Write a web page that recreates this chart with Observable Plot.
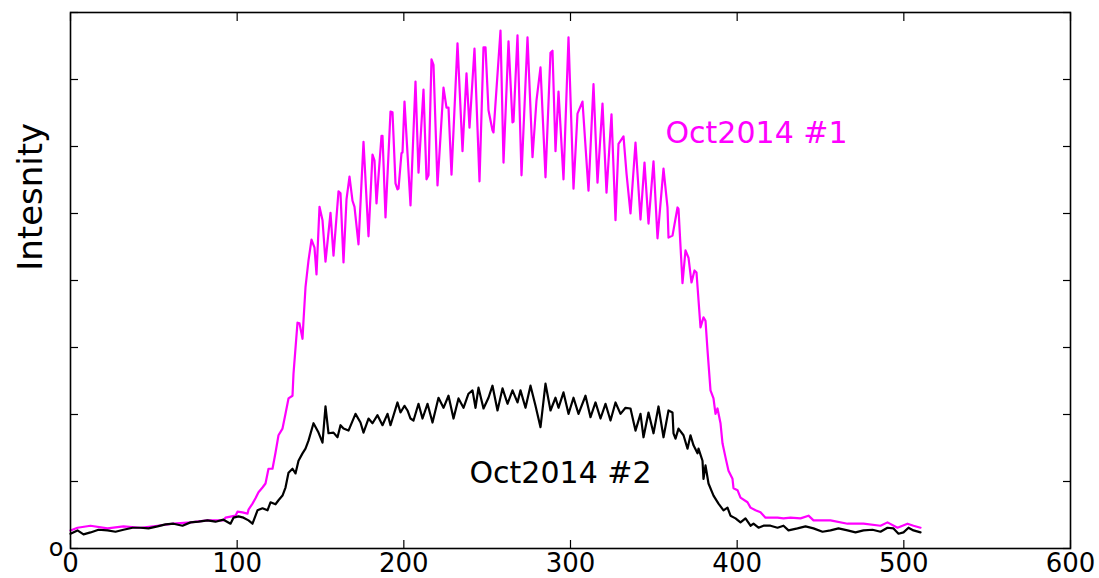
<!DOCTYPE html>
<html>
<head>
<meta charset="utf-8">
<script src="https://cdn.jsdelivr.net/npm/d3@7"></script>
<script src="https://cdn.jsdelivr.net/npm/@observablehq/plot@0.6"></script>
<style>
  html, body { margin: 0; padding: 0; background: #ffffff; }
</style>
</head>
<body>
<div id="chart"></div>
<script>
// ---- data ----
const xTicks = [0, 100, 200, 300, 400, 500, 600];
const yTicks = [0, 1, 2, 3, 4, 5, 6, 7, 8];
const yZeroLabel = "o";
const yTitle = "Intesnity";

// Oct2014 #1 : [position, intensity]
const oct1 = [
  [0,0.27],[4.2,0.31],[12,0.34],[22.2,0.30],[31.8,0.33],[42,0.31],[52.2,0.34],[61.8,0.37],[72,0.39],[82.2,0.42],
  [91.8,0.42],[93,0.46],[99,0.49],[100.2,0.55],[103.2,0.54],[106.2,0.52],[106.8,0.58],[109.2,0.67],[111,0.75],[112.8,0.84],
  [115.2,0.91],[117,0.97],[118.8,1.19],[121.2,1.19],[123,1.43],[124.8,1.69],[127.2,1.79],[129,2.01],[130.8,2.24],[133.2,2.28],
  [133.8,2.61],[136.2,3.37],[137.4,3.36],[139.2,3.13],[139.8,3.40],[141,3.90],[142.8,4.30],[144.6,4.61],[146.4,4.49],[147.6,4.09],
  [149.4,5.10],[151.2,4.90],[153,4.28],[156,5.01],[157.8,4.37],[160.8,5.33],[162,5.30],[163.8,4.27],[165.6,5.21],[167.4,5.55],
  [169.2,5.19],[170.4,5.10],[172.8,4.54],[175.8,6.07],[178.8,4.66],[181.2,5.88],[182.4,5.79],[183.6,5.15],[186.6,6.16],[187.2,6.16],
  [189,4.94],[192,6.52],[193.2,6.51],[195,5.45],[196.2,5.36],[196.8,5.37],[198.6,5.90],[199.2,5.91],[200.4,6.67],[204,5.12],
  [207,6.97],[208.8,5.61],[211.8,6.85],[213.6,5.51],[214.8,5.57],[216.6,7.30],[217.8,7.22],[220.2,5.42],[223.8,6.88],[225.6,6.58],
  [226.8,6.58],[228.6,5.58],[232.2,7.54],[235.2,5.93],[237.6,7.09],[239.4,6.28],[242.4,7.46],[245.4,5.48],[247.8,7.48],[249,7.48],
  [250.8,6.54],[253.2,6.24],[253.8,6.21],[258,7.73],[259.8,5.76],[262.8,7.57],[265.2,6.36],[265.8,6.37],[268.2,7.66],[270.6,5.57],
  [274.2,7.63],[277.2,5.84],[279.6,6.69],[282,7.18],[285,5.54],[288,7.40],[289.2,7.43],[291,5.93],[292.8,6.82],[295.8,5.51],
  [298.8,7.63],[301.8,5.37],[304.2,6.49],[307.2,6.67],[310.8,5.34],[313.8,6.93],[316.2,5.46],[319.2,6.64],[321.6,5.31],[324.6,6.48],
  [327,4.90],[328.8,6.04],[331.8,6.15],[333.6,5.60],[336,5.00],[339,6.06],[342,4.91],[344.4,5.76],[346.8,4.85],[349.8,5.78],
  [352.2,4.63],[355.8,5.67],[358.2,5.09],[358.8,4.64],[361.2,4.67],[364.2,5.09],[364.8,5.07],[367.2,3.96],[369,4.45],[370.8,4.34],
  [372.6,3.97],[374.4,4.15],[375.6,4.12],[378,3.30],[379.8,3.45],[381,3.40],[382.2,2.96],[384,2.36],[385.8,2.24],[387,2.01],
  [388.2,2.09],[390,1.87],[391.2,1.57],[393,1.36],[394.8,1.16],[397.2,1.04],[397.8,0.90],[400.2,0.87],[402,0.76],[406.2,0.69],
  [408,0.61],[411,0.57],[414,0.54],[417,0.46],[420,0.46],[424.2,0.46],[427.8,0.45],[432,0.46],[438,0.45],[442.8,0.49],
  [445.8,0.42],[456,0.42],[466.2,0.37],[475.8,0.37],[486,0.34],[490.2,0.39],[496.2,0.31],[502.2,0.37],[505.8,0.34],[510,0.31]
];

// Oct2014 #2 : [position, intensity]
const oct2 = [
  [0,0.22],[4.2,0.27],[7.8,0.21],[12,0.24],[16.8,0.28],[22.2,0.27],[27,0.25],[31.8,0.28],[37.2,0.31],[42,0.31],
  [46.8,0.30],[52.2,0.33],[57,0.36],[61.8,0.37],[67.2,0.34],[72,0.39],[76.8,0.40],[82.2,0.42],[87,0.40],[91.8,0.43],
  [96,0.37],[97.8,0.46],[100.8,0.48],[103.8,0.46],[106.8,0.42],[109.2,0.37],[112.2,0.57],[115.2,0.60],[118.2,0.57],[120,0.69],
  [123,0.66],[124.8,0.72],[127.2,0.79],[129,0.91],[130.8,1.13],[133.2,1.19],[135,1.12],[136.8,1.31],[139.2,1.42],[141,1.49],
  [142.8,1.61],[145.8,1.87],[148.8,1.73],[151.2,1.58],[153,2.12],[154.8,1.72],[157.8,1.73],[160.2,1.66],[162,1.84],[163.8,1.79],
  [166.8,1.76],[171,2.01],[174,1.88],[175.8,1.73],[178.8,1.94],[181.2,1.87],[184.2,1.99],[187.2,1.84],[190.2,2.01],[192,1.84],
  [196.2,2.18],[198,2.03],[200.4,2.13],[202.2,2.06],[204,1.94],[205.8,1.91],[208.8,2.16],[211.2,1.94],[214.2,2.16],[217.2,1.88],
  [220.8,2.25],[223.8,2.10],[226.8,2.28],[229.8,1.94],[232.8,2.24],[235.8,2.10],[238.8,2.31],[241.2,2.36],[243,2.10],[244.8,2.40],
  [247.8,2.09],[250.8,2.25],[253.2,2.43],[256.2,2.06],[259.2,2.39],[262.2,2.16],[265.2,2.36],[268.2,2.18],[270,2.36],[273,2.10],
  [276,2.43],[279,2.13],[282,1.81],[285,2.46],[288,2.06],[291,2.25],[292.8,2.10],[295.8,2.33],[298.8,2.01],[301.8,2.25],
  [304.8,2.01],[309,2.28],[312,1.96],[315,2.18],[318,1.94],[321,2.16],[324,1.91],[327,2.18],[330,2.01],[333,2.10],
  [336,2.09],[339,1.76],[342,2.01],[343.8,1.66],[346.8,2.03],[349.8,1.72],[352.8,2.12],[355.8,1.66],[358.8,2.06],[361.2,2.03],
  [361.8,1.72],[363,1.64],[364.8,1.79],[367.8,1.69],[370.2,1.49],[372,1.69],[373.8,1.54],[376.2,1.42],[376.8,1.49],[379.2,1.31],
  [379.8,1.04],[381,1.24],[382.8,0.97],[385.8,0.79],[388.8,0.67],[391.8,0.57],[394.2,0.61],[396,0.49],[399,0.45],[402,0.39],
  [405,0.45],[408,0.34],[409.8,0.37],[412.8,0.31],[415.8,0.34],[420,0.34],[424.2,0.31],[427.8,0.34],[430.8,0.27],[436.2,0.30],
  [441,0.33],[445.8,0.30],[451.2,0.25],[456,0.27],[460.8,0.30],[466.2,0.27],[471,0.24],[475.8,0.27],[481.2,0.28],[486,0.25],
  [490.2,0.31],[493.8,0.30],[496.8,0.22],[499.8,0.24],[502.8,0.31],[505.8,0.27],[510,0.24]
];

// series labels placed in data coordinates
const seriesNames = ["Oct2014 #1", "Oct2014 #2"];
const labelX = [357, 239.4];
const labelY = [6.2, 1.12];
const seriesColors = ["#ff00ff", "#000000"];

// y-axis title position (data coordinates)
const titlePos = { x: -23.4, y: 5.25 };

// ---- chart ----
const labels = seriesNames.map((t, i) => ({ t, x: labelX[i], y: labelY[i], c: seriesColors[i] }));

const chart = Plot.plot({
  width: 1099,
  height: 578,
  marginLeft: 70,
  marginRight: 29,
  marginTop: 12,
  marginBottom: 30,
  x: { domain: [0, 600], label: null },
  y: { domain: [0, 8], label: null },
  style: { fontFamily: "DejaVu Sans", background: "#ffffff", color: "#000000", overflow: "visible" },
  marks: [
    // inward ticks on all four sides
    Plot.axisX({ anchor: "bottom", ticks: xTicks, tickSize: -8, tickFormat: () => "", label: null, strokeWidth: 1.2 }),
    Plot.axisX({ anchor: "top", ticks: xTicks, tickSize: -8, tickFormat: () => "", label: null, strokeWidth: 1.2 }),
    Plot.axisY({ anchor: "left", ticks: yTicks, tickSize: -8, tickFormat: () => "", label: null, strokeWidth: 1.2 }),
    Plot.axisY({ anchor: "right", ticks: yTicks, tickSize: -8, tickFormat: () => "", label: null, strokeWidth: 1.2 }),
    // tick labels
    Plot.axisX({ anchor: "bottom", ticks: xTicks, tickSize: 0, tickPadding: 5, fontSize: 26, label: null }),
    Plot.axisY({ anchor: "left", ticks: [0], tickSize: 0, tickPadding: 7, fontSize: 24, tickFormat: () => yZeroLabel, label: null }),
    // profiles
    Plot.line(oct1, { x: d => d[0], y: d => d[1], stroke: seriesColors[0], strokeWidth: 2.2 }),
    Plot.line(oct2, { x: d => d[0], y: d => d[1], stroke: seriesColors[1], strokeWidth: 2.2 }),
    // frame
    Plot.frame({ stroke: "#000000", strokeWidth: 1.6 }),
    // series labels
    Plot.text(labels, { x: "x", y: "y", text: "t", fill: "c", fontSize: 30, textAnchor: "start" }),
    // y title
    Plot.text([yTitle], { x: () => titlePos.x, y: () => titlePos.y, text: d => d, rotate: -90, fontSize: 34, fill: "#000000" })
  ]
});

document.getElementById("chart").appendChild(chart);
</script>
</body>
</html>
